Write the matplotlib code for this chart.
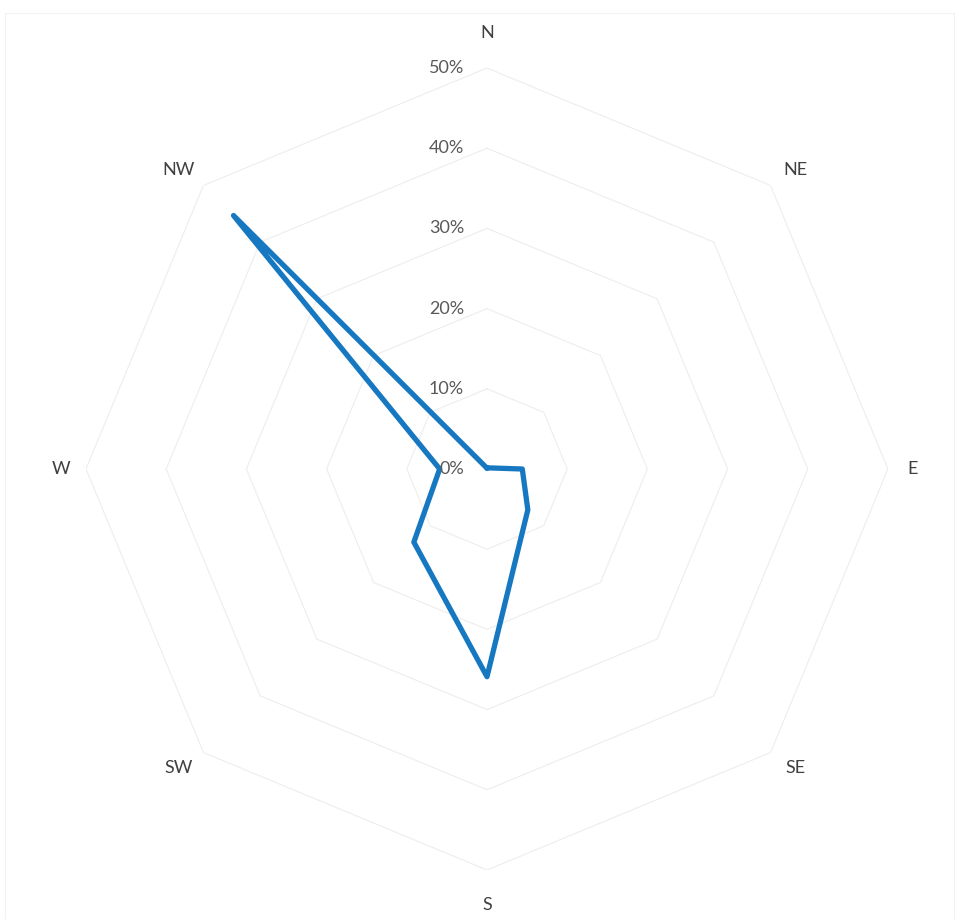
import numpy as np
import matplotlib
matplotlib.use("Agg")
import matplotlib.pyplot as plt
from matplotlib.patches import Rectangle

# Wind direction frequency (% of observations)
directions = ["N", "NE", "E", "SE", "S", "SW", "W", "NW"]
frequency = [0.1, 0.2, 4.4, 7.2, 25.9, 12.9, 5.9, 44.7]
ring_levels = [10, 20, 30, 40, 50]
ring_labels = ["10%", "20%", "30%", "40%", "50%"]
zero_label = "0%"

plt.rcParams["font.family"] = ["Lato", "DejaVu Sans"]

W, H = 955, 919
fig = plt.figure(figsize=(W / 100, H / 100), dpi=100)
fig.patch.set_facecolor("white")

# faint chart-area border
fig.patches.append(Rectangle((5 / W, 0.0), (W - 6) / W, (H - 13) / H,
                             transform=fig.transFigure, fill=False,
                             edgecolor="#f2f2f2", linewidth=0.8))

cx, cy, R = 487, 469, 401
ax = fig.add_axes([(cx - R) / W, (H - cy - R) / H, 2 * R / W, 2 * R / H],
                  projection="polar")
ax.set_theta_zero_location("N")
ax.set_theta_direction(-1)
ax.set_ylim(0, 50)
ax.grid(False)
ax.spines["polar"].set_visible(False)
ax.set_xticks([])
ax.set_yticks([])
ax.patch.set_alpha(0)

n = len(directions)
angles = np.linspace(0, 2 * np.pi, n, endpoint=False)
closed = np.append(angles, angles[0])

# octagonal grid rings
for lvl in ring_levels:
    ax.plot(closed, [lvl] * (n + 1), color="#ededed", lw=0.8, zorder=1)

# data polygon
vals = np.append(frequency, frequency[0])
ax.plot(closed, vals, color="#1778c2", lw=3.8, solid_joinstyle="round",
        solid_capstyle="round", zorder=3)

# direction labels, offset outward from the outer ring's vertices
rmax = ring_levels[-1]
for ang, name in zip(angles, directions):
    s, c = np.sin(ang), np.cos(ang)
    sx = 0 if abs(s) < 1e-6 else np.sign(s)
    sy = 0 if abs(c) < 1e-6 else np.sign(c)
    dx = 25 * sx
    dy = (35 if sx == 0 else 15.5) * sy
    ax.annotate(name, xy=(ang, rmax), xytext=(dx, dy),
                textcoords="offset pixels", ha="center", va="center",
                fontsize=13, color="#404040", zorder=4)

# radial value labels, placed left of the north axis
for lvl, lab in zip([0] + ring_levels, [zero_label] + ring_labels):
    ax.annotate(lab, xy=(0, lvl), xytext=(-23, 0), textcoords="offset pixels",
                ha="right", va="center", fontsize=13, color="#595959",
                zorder=4)

fig.savefig("out.png", dpi=100, facecolor="white")
